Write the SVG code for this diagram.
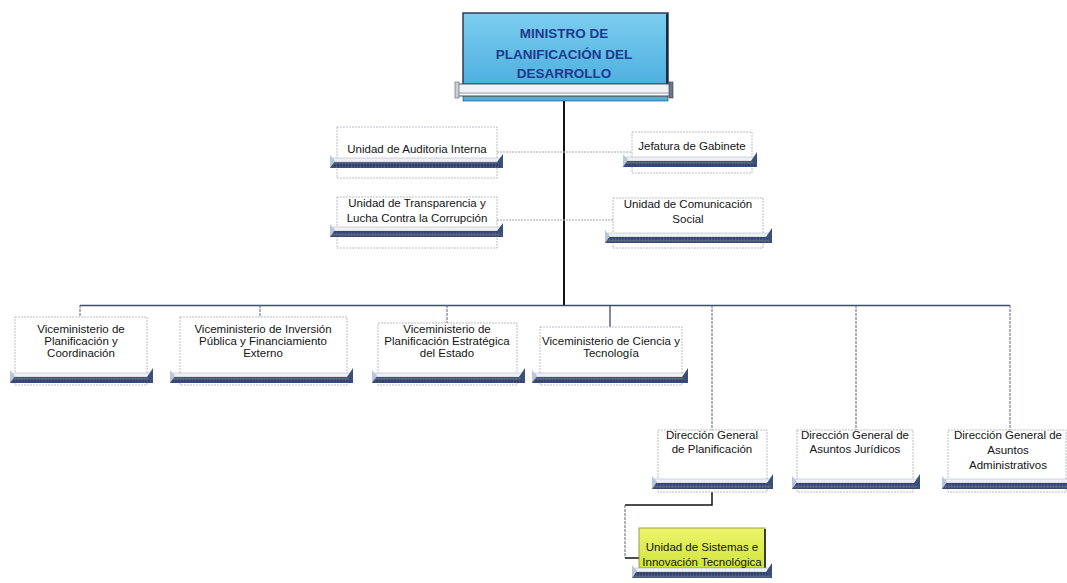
<svg xmlns="http://www.w3.org/2000/svg" width="1067" height="583" viewBox="0 0 1067 583">
<defs>
<linearGradient id="blue" x1="0" y1="0" x2="0" y2="1"><stop offset="0" stop-color="#7ccdef"/><stop offset="1" stop-color="#4eb0df"/></linearGradient>
<linearGradient id="yel" x1="0" y1="0" x2="0" y2="1"><stop offset="0" stop-color="#eef56a"/><stop offset="1" stop-color="#cfe43c"/></linearGradient>
<linearGradient id="bar" x1="0" y1="0" x2="0" y2="1"><stop offset="0" stop-color="#5d6c8e"/><stop offset="0.5" stop-color="#2c3d64"/><stop offset="1" stop-color="#42547c"/></linearGradient>
<pattern id="hatch" width="3" height="6" patternUnits="userSpaceOnUse"><rect width="3" height="6" fill="url(#bar)"/><line x1="0" y1="0" x2="0" y2="6" stroke="#6f7c9a" stroke-width="0.5"/></pattern>
</defs>
<style>
.box{fill:#fff;stroke:#a7abb4;stroke-width:0.8;stroke-dasharray:2 1}
.t{font-family:"Liberation Sans",Arial,sans-serif;font-size:11.5px;fill:#141414;text-anchor:middle}
.title{font-family:"Liberation Sans",Arial,sans-serif;font-size:13.5px;font-weight:bold;fill:#1d3a8c;text-anchor:middle}
.lt{fill:#eef0f4;stroke:#b4bac8;stroke-width:0.6}
.dk{fill:url(#hatch)}
.lc{fill:#b9c5da}
.rc{fill:#3a4f7a}
.dash{fill:none;stroke:#a2a6ae;stroke-width:1;stroke-dasharray:2 1}
.bus{fill:none;stroke:#3e4d68;stroke-width:1.3}
.vd{fill:none;stroke:#5a6478;stroke-width:1;stroke-dasharray:3 1}
.solid{fill:none;stroke:#111;stroke-width:2}
</style>

<g id="connectors">
<line class="solid" x1="564" y1="100" x2="564" y2="306"/>
<line class="dash" x1="497" y1="152" x2="632" y2="152"/>
<line class="dash" x1="497" y1="220" x2="613" y2="220"/>
<line class="bus" x1="80" y1="305.5" x2="1010" y2="305.5"/>
<line class="vd" x1="80" y1="305" x2="80" y2="317"/>
<line class="vd" x1="260" y1="305" x2="260" y2="317"/>
<line class="vd" x1="447" y1="305" x2="447" y2="323"/>
<line class="bus" x1="610" y1="305" x2="610" y2="327"/>
<line class="vd" x1="712" y1="305" x2="712" y2="430"/>
<line class="vd" x1="856" y1="305" x2="856" y2="430"/>
<line class="vd" x1="1010" y1="305" x2="1010" y2="430"/>
<polyline class="solid" style="stroke-width:1.5" points="712,492 712,505 625,505"/>
<polyline class="vd" points="625,505 625,558"/>
<polyline class="solid" style="stroke-width:1.5" points="625,558 640,558"/>
</g>

<g id="ministro">
<rect x="463" y="13" width="205" height="71" fill="url(#blue)" stroke="#2c3b58" stroke-width="1.5"/>
<line x1="667" y1="14" x2="667" y2="84" stroke="#1d2a44" stroke-width="2"/>
<rect x="463" y="96" width="205" height="5" fill="#4eaedc" stroke="#2c3b58" stroke-width="0.6"/>
<rect x="457" y="84" width="215" height="12" fill="#f1f2f5" stroke="#555c6a" stroke-width="1"/>
<line x1="459" y1="93" x2="670" y2="93" stroke="#9aa0ac" stroke-width="1"/>
<rect x="455" y="82" width="4" height="16" fill="#c9cfdb" stroke="#555c6a" stroke-width="0.6"/>
<rect x="669" y="82" width="4" height="16" fill="#6d7690" stroke="#333a4a" stroke-width="0.6"/>
<text class="title" x="564" y="38">MINISTRO DE</text>
<text class="title" x="564" y="59">PLANIFICACIÓN DEL</text>
<text class="title" x="564" y="78">DESARROLLO</text>
</g>

<g id="auditoria">
<rect class="box" x="337" y="127" width="160" height="51"/>
<rect class="lt" x="333" y="158" width="167" height="4"/>
<rect class="dk" x="330" y="162" width="173" height="6"/>
<polygon class="lc" points="330,155 335,161 330,168"/>
<polygon class="rc" points="503,154 503,168 497,162"/>
<text class="t" x="417" y="153">Unidad de Auditoria Interna</text>
</g>

<g id="jefatura">
<rect class="box" x="632" y="132" width="120" height="41"/>
<rect class="lt" x="626" y="157" width="128" height="4"/>
<rect class="dk" x="623" y="161" width="134" height="6"/>
<polygon class="lc" points="623,154 628,160 623,167"/>
<polygon class="rc" points="757,152 757,167 751,161"/>
<text class="t" x="692" y="150">Jefatura de Gabinete</text>
</g>

<g id="transparencia">
<rect class="box" x="337" y="197" width="160" height="51"/>
<rect class="lt" x="333" y="227" width="167" height="4"/>
<rect class="dk" x="330" y="231" width="173" height="6"/>
<polygon class="lc" points="330,224 335,230 330,237"/>
<polygon class="rc" points="503,223 503,237 497,231"/>
<text class="t" x="417" y="207">Unidad de Transparencia y</text>
<text class="t" x="417" y="222">Lucha Contra la Corrupción</text>
</g>

<g id="comunicacion">
<rect class="box" x="613" y="198" width="150" height="50"/>
<rect class="lt" x="608" y="233" width="161" height="4"/>
<rect class="dk" x="605" y="237" width="167" height="6"/>
<polygon class="lc" points="605,230 610,236 605,243"/>
<polygon class="rc" points="772,228 772,243 766,237"/>
<text class="t" x="688" y="208">Unidad de Comunicación</text>
<text class="t" x="688" y="223">Social</text>
</g>

<g id="vice1">
<rect class="box" x="15" y="317" width="132" height="68"/>
<rect class="lt" x="13" y="373" width="137" height="4"/>
<rect class="dk" x="10" y="377" width="143" height="6"/>
<polygon class="lc" points="10,370 15,376 10,383"/>
<polygon class="rc" points="153,368 153,383 147,377"/>
<text class="t" x="81" y="333">Viceministerio de</text>
<text class="t" x="81" y="345">Planificación y</text>
<text class="t" x="81" y="357">Coordinación</text>
</g>

<g id="vice2">
<rect class="box" x="180" y="317" width="167" height="68"/>
<rect class="lt" x="173" y="373" width="177" height="4"/>
<rect class="dk" x="170" y="377" width="183" height="6"/>
<polygon class="lc" points="170,370 175,376 170,383"/>
<polygon class="rc" points="353,368 353,383 347,377"/>
<text class="t" x="263" y="333">Viceministerio de Inversión</text>
<text class="t" x="263" y="345">Pública y Financiamiento</text>
<text class="t" x="263" y="357">Externo</text>
</g>

<g id="vice3">
<rect class="box" x="378" y="323" width="139" height="62"/>
<rect class="lt" x="375" y="373" width="147" height="4"/>
<rect class="dk" x="372" y="377" width="153" height="6"/>
<polygon class="lc" points="372,370 377,376 372,383"/>
<polygon class="rc" points="525,368 525,383 519,377"/>
<text class="t" x="447" y="333">Viceministerio de</text>
<text class="t" x="447" y="345">Planificación Estratégica</text>
<text class="t" x="447" y="357">del Estado</text>
</g>

<g id="vice4">
<rect class="box" x="540" y="327" width="142" height="58"/>
<rect class="lt" x="535" y="373" width="150" height="4"/>
<rect class="dk" x="532" y="377" width="156" height="6"/>
<polygon class="lc" points="532,370 537,376 532,383"/>
<polygon class="rc" points="688,368 688,383 682,377"/>
<text class="t" x="611" y="345">Viceministerio de Ciencia y</text>
<text class="t" x="611" y="357">Tecnología</text>
</g>

<g id="dgp">
<rect class="box" x="658" y="430" width="109" height="62"/>
<rect class="lt" x="655" y="479" width="115" height="4"/>
<rect class="dk" x="652" y="483" width="121" height="6"/>
<polygon class="lc" points="652,476 657,482 652,489"/>
<polygon class="rc" points="773,474 773,489 767,483"/>
<text class="t" x="712" y="439">Dirección General</text>
<text class="t" x="712" y="453">de Planificación</text>
</g>

<g id="dgaj">
<rect class="box" x="797" y="430" width="116" height="62"/>
<rect class="lt" x="795" y="479" width="122" height="4"/>
<rect class="dk" x="792" y="483" width="128" height="6"/>
<polygon class="lc" points="792,476 797,482 792,489"/>
<polygon class="rc" points="920,474 920,489 914,483"/>
<text class="t" x="855" y="439">Dirección General de</text>
<text class="t" x="855" y="453">Asuntos Jurídicos</text>
</g>

<g id="dgaa">
<rect class="box" x="948" y="430" width="118" height="62"/>
<rect class="lt" x="945" y="479" width="124" height="4"/>
<rect class="dk" x="942" y="483" width="126" height="6"/>
<polygon class="lc" points="942,476 947,482 942,489"/>
<text class="t" x="1008" y="439">Dirección General de</text>
<text class="t" x="1008" y="454">Asuntos</text>
<text class="t" x="1008" y="469">Administrativos</text>
</g>

<g id="sistemas">
<rect x="639" y="528" width="126" height="40" fill="url(#yel)" stroke="#7d8a40" stroke-width="0.8"/>
<line x1="765" y1="529" x2="765" y2="568" stroke="#3a3a3a" stroke-width="2"/>
<rect class="lt" x="635" y="568" width="134" height="4"/>
<rect class="dk" x="632" y="572" width="140" height="6"/>
<polygon class="lc" points="632,565 637,571 632,578"/>
<polygon class="rc" points="772,563 772,578 766,572"/>
<text class="t" x="702" y="551">Unidad de Sistemas e</text>
<text class="t" x="702" y="566">Innovación Tecnológica</text>
</g>
</svg>
